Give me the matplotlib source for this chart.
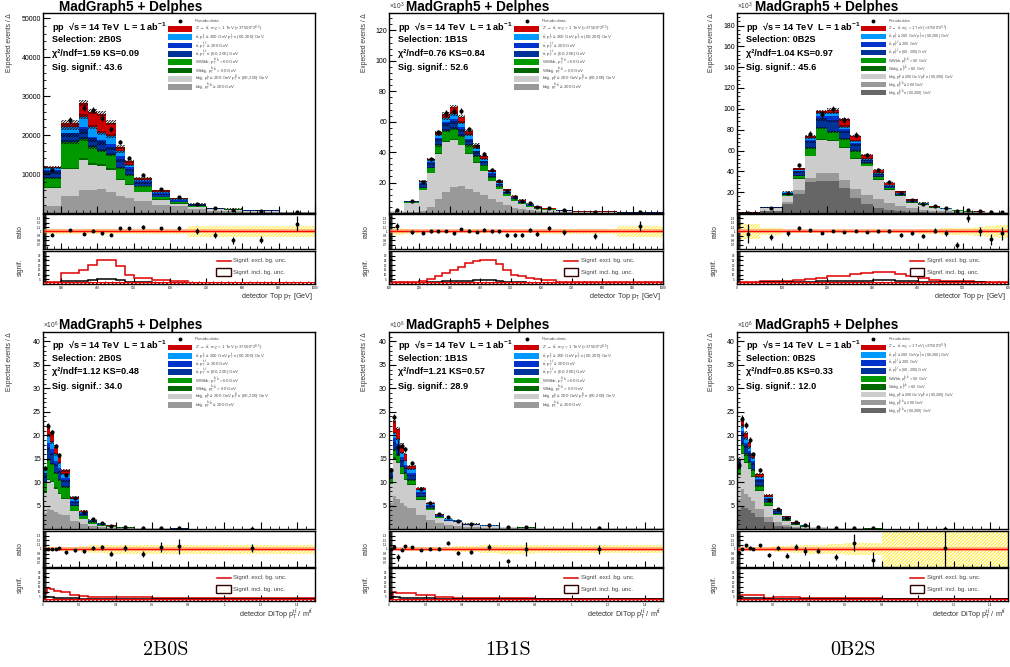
import numpy as np
import matplotlib
matplotlib.use("Agg")
import matplotlib.pyplot as plt
from matplotlib.ticker import MultipleLocator, FixedLocator, FuncFormatter
from matplotlib.patches import Rectangle

plt.rcParams['font.family'] = ['Liberation Sans', 'DejaVu Sans']
plt.rcParams['mathtext.fontset'] = 'custom'
plt.rcParams['mathtext.rm'] = 'Liberation Sans'
plt.rcParams['mathtext.it'] = 'Liberation Sans:italic'
plt.rcParams['mathtext.bf'] = 'Liberation Sans:bold'
plt.rcParams['mathtext.default'] = 'regular'
plt.rcParams['hatch.linewidth'] = 0.6

# ---------------------------------------------------------------- data
# detector Top pT, selection 2B0S (events / bin)
toppt_2b0s_edges = [250, 300, 350, 375, 400, 425, 450, 475, 500, 550, 600, 650, 700, 750, 800, 900, 1000]
toppt_2b0s_bbjj_hi = [1900, 4300, 6000, 5800, 6100, 5300, 4300, 3800, 3200, 2100, 1700, 1100, 600, 500, 300, 130]
toppt_2b0s_bbjj_mix = [4500, 6900, 7600, 6600, 6000, 5800, 4200, 3400, 2100, 1300, 700, 500, 300, 250, 170, 70]
toppt_2b0s_wbbjj = [300, 400, 400, 400, 400, 400, 300, 300, 200, 100, 100, 50, 30, 30, 20, 10]
toppt_2b0s_wwbb = [2200, 6700, 4900, 4200, 3500, 3400, 2700, 2300, 1300, 600, 300, 250, 150, 130, 90, 40]
toppt_2b0s_tt_lo = [1500, 1700, 2000, 1700, 1900, 1700, 1900, 1300, 900, 600, 300, 200, 100, 90, 60, 25]
toppt_2b0s_tt_hi = [600, 600, 1200, 900, 800, 1100, 1100, 800, 400, 400, 200, 100, 50, 40, 30, 10]
toppt_2b0s_tt_mix = [500, 1400, 2600, 2500, 1900, 2100, 1300, 400, 400, 300, 200, 100, 40, 30, 20, 10]
toppt_2b0s_zprime = [300, 1200, 3600, 3900, 4900, 3400, 1200, 1000, 450, 400, 300, 100, 30, 30, 10, 5]
toppt_2b0s_ratio = [0.93, 1.03, 0.95, 1.02, 0.955, 0.925, 1.07, 1.07, 1.10, 1.07, 1.07, 1.01, 0.91, 0.80, 0.81, 1.18]
toppt_2b0s_ratio_err = [0.03, 0.03, 0.03, 0.03, 0.03, 0.03, 0.035, 0.035, 0.04, 0.04, 0.045, 0.06, 0.07, 0.08, 0.08, 0.17]
toppt_2b0s_bkg_unc = [0.06, 0.06, 0.06, 0.06, 0.06, 0.06, 0.06, 0.06, 0.06, 0.06, 0.06, 0.12, 0.12, 0.12, 0.13, 0.13]
toppt_2b0s_sig_excl = [2, 12, 15, 20, 25, 25, 19, 10, 6, 4, 3, 1.5, 1.2, 1.2, 1.2, 1.2]
toppt_2b0s_sig_incl = [1.5, 3.5, 3, 3.8, 4.8, 4.8, 3.8, 2.5, 2, 1.5, 1.2, 1, 1, 1, 1, 1]

# detector Top pT, selection 1B1S (10^3 events / bin)
toppt_1b1s_edges = [100, 150, 200, 225, 250, 275, 300, 325, 350, 375, 400, 425, 450, 475, 500, 525, 550, 575, 600, 650, 700, 850, 1000]
toppt_1b1s_bbjj_hi = [0.2, 0.5, 1.5, 4, 9, 14, 17, 17.5, 16, 14, 12, 9, 7, 5, 3.5, 2.5, 1.8, 1.2, 0.9, 0.5, 0.25, 0.1]
toppt_1b1s_bbjj_mix = [1.0, 6.0, 13.5, 22, 30, 33, 31, 27, 23, 19, 15.5, 12, 8.5, 6, 4.5, 3.5, 2.4, 1.7, 1.2, 0.8, 0.4, 0.15]
toppt_1b1s_wbbjj = [0.02, 0.1, 0.3, 0.4, 0.5, 0.5, 0.5, 0.4, 0.4, 0.3, 0.3, 0.2, 0.2, 0.1, 0.1, 0.1, 0.05, 0.05, 0.03, 0.02, 0.01, 0.005]
toppt_1b1s_wwbb = [0.1, 0.5, 1.2, 3.5, 5, 6.5, 7, 6, 5, 4, 3.5, 2.5, 1.8, 1.3, 1.0, 0.8, 0.5, 0.4, 0.3, 0.2, 0.1, 0.05]
toppt_1b1s_tt_lo = [0.05, 0.3, 2.0, 2.5, 3.5, 4, 4, 3.5, 3, 2.5, 2, 1.5, 1.1, 0.9, 0.7, 0.5, 0.4, 0.3, 0.2, 0.15, 0.08, 0.03]
toppt_1b1s_tt_hi = [0.03, 0.2, 1.0, 1.0, 1.5, 2, 2.5, 2, 1.5, 1.2, 1, 0.8, 0.6, 0.5, 0.4, 0.3, 0.2, 0.15, 0.1, 0.07, 0.04, 0.02]
toppt_1b1s_tt_mix = [0.05, 0.2, 1.0, 1.5, 2, 2.5, 3, 3, 2.5, 2, 1.5, 1.2, 0.8, 0.6, 0.4, 0.3, 0.25, 0.2, 0.15, 0.1, 0.05, 0.02]
toppt_1b1s_zprime = [0.05, 0.1, 0.5, 0.6, 1.5, 2.5, 5, 4, 2.6, 2, 1.7, 0.8, 1.0, 1.2, 0.9, 0.8, 0.6, 0.4, 0.32, 0.16, 0.06, 0.02]
toppt_1b1s_ratio = [1.12, 0.985, 0.97, 1.0, 1.0, 1.015, 0.96, 1.06, 1.02, 0.985, 1.04, 1.01, 1.01, 0.92, 0.92, 0.925, 1.03, 0.95, 1.08, 0.985, 0.895, 1.12]
toppt_1b1s_ratio_err = [0.075, 0.04, 0.035, 0.03, 0.03, 0.03, 0.03, 0.03, 0.03, 0.03, 0.03, 0.035, 0.035, 0.04, 0.04, 0.04, 0.045, 0.05, 0.05, 0.06, 0.07, 0.11]
toppt_1b1s_bkg_unc = [0.07, 0.05, 0.04, 0.04, 0.04, 0.04, 0.04, 0.04, 0.04, 0.04, 0.04, 0.04, 0.04, 0.04, 0.04, 0.045, 0.045, 0.05, 0.05, 0.06, 0.06, 0.13]
toppt_1b1s_sig_excl = [2, 2.5, 3, 5, 8, 12, 15, 18, 22, 24.5, 25, 25, 21, 15, 10, 8, 6, 5, 4, 2, 2.5, 2.5]
toppt_1b1s_sig_incl = [1, 1, 1.5, 2, 2.5, 3, 3, 3.5, 3.5, 4, 4, 4, 3.5, 2.5, 2, 2, 1.5, 1.5, 1, 1, 1, 1]

# detector Top pT, selection 0B2S (10^3 events / bin)
toppt_0b2s_edges = [0, 50, 100, 125, 150, 175, 200, 225, 250, 275, 300, 325, 350, 375, 400, 425, 450, 475, 500, 525, 550, 575, 600]
toppt_0b2s_bbjj_lo = [0.1, 2.0, 9, 18.2, 29.5, 30.4, 30.4, 24, 14.4, 9, 4.8, 2.5, 1.5, 1, 0.7, 0.4, 0.3, 0.2, 0.1, 0.1, 0.05, 0.04]
toppt_0b2s_bbjj_hi = [0.05, 0.3, 1.6, 3.6, 4.1, 8, 7.6, 8, 9, 8.6, 9, 7.1, 5.5, 3.5, 2.5, 1.8, 1.3, 0.8, 0.6, 0.4, 0.3, 0.26]
toppt_0b2s_bbjj_mix = [0.2, 2.3, 5.4, 11.2, 20.8, 32, 31.5, 30.4, 28.4, 27.2, 18.2, 12.8, 9, 5.5, 4.3, 2.6, 1.9, 1.2, 0.7, 0.5, 0.35, 0.25]
toppt_0b2s_wbbjj = [0.01, 0.05, 0.2, 0.4, 0.6, 0.8, 0.8, 0.7, 0.6, 0.4, 0.3, 0.2, 0.15, 0.1, 0.1, 0.05, 0.05, 0.03, 0.02, 0.02, 0.01, 0.01]
toppt_0b2s_wwbb = [0.04, 0.35, 1.4, 2.6, 7.4, 10.4, 7.2, 7.9, 7.4, 2.8, 2.7, 1.4, 0.85, 0.7, 0.6, 0.45, 0.35, 0.27, 0.18, 0.13, 0.09, 0.07]
toppt_0b2s_tt_lo = [0.03, 0.2, 1.4, 3.3, 5.9, 8.4, 11, 7, 5.3, 2.4, 2.0, 1.4, 1.1, 0.6, 0.5, 0.3, 0.25, 0.15, 0.13, 0.1, 0.05, 0.05]
toppt_0b2s_tt_hi = [0.02, 0.1, 0.6, 1.3, 2.1, 3.2, 4.2, 2.6, 2.3, 0.8, 0.7, 0.5, 0.4, 0.3, 0.25, 0.15, 0.15, 0.1, 0.07, 0.05, 0.05, 0.03]
toppt_0b2s_tt_mix = [0.02, 0.1, 0.6, 0.9, 1.6, 2.8, 3.4, 2.4, 2.0, 0.8, 0.8, 0.6, 0.5, 0.3, 0.25, 0.15, 0.1, 0.07, 0.05, 0.05, 0.05, 0.02]
toppt_0b2s_zprime = [0.03, 0.4, 0.3, 1.5, 1.5, 1.5, 3.0, 7.0, 4.6, 3.9, 3.0, 2.5, 2.0, 1.0, 0.8, 0.5, 0.4, 0.25, 0.15, 0.15, 0.1, 0.07]
toppt_0b2s_ratio = [0.95, 0.87, 0.955, 1.075, 1.03, 0.97, 1.0075, 0.9925, 1.015, 0.9925, 1.0, 1.015, 0.92, 0.97, 0.895, 1.015, 0.97, 0.685, 1.31, 1.0, 0.82, 0.955]
toppt_0b2s_ratio_err = [0.22, 0.075, 0.05, 0.04, 0.035, 0.03, 0.03, 0.03, 0.03, 0.03, 0.035, 0.04, 0.045, 0.05, 0.055, 0.06, 0.065, 0.07, 0.09, 0.11, 0.13, 0.15]
toppt_0b2s_bkg_unc = [0.18, 0.07, 0.04, 0.035, 0.03, 0.03, 0.03, 0.03, 0.03, 0.03, 0.035, 0.035, 0.04, 0.045, 0.05, 0.06, 0.07, 0.08, 0.09, 0.1, 0.12, 0.15]
toppt_0b2s_sig_excl = [2.5, 3, 3.5, 4, 5, 6, 8, 8.5, 11, 11.5, 13, 13, 11, 8, 6, 4.5, 3.5, 3, 3, 2.5, 2.5, 2.5]
toppt_0b2s_sig_incl = [1.5, 2, 2, 2.2, 2.5, 2.8, 3, 3.2, 3.5, 3.5, 3.8, 3.8, 3.5, 3, 2.5, 2.2, 2, 2, 1.8, 1.8, 1.5, 1.5]

# detector DiTop pT/m, all selections share the binning (10^6 events / bin)
ditop_edges = [0, 0.02, 0.04, 0.06, 0.08, 0.1, 0.15, 0.2, 0.25, 0.3, 0.35, 0.4, 0.5, 0.6, 0.7, 0.8, 1.5]

ditop_2b0s_bbjj_hi = [3.5, 4.2, 4.0, 3.6, 3.2, 2.9, 1.8, 1.0, 0.55, 0.35, 0.22, 0.12, 0.07, 0.05, 0.04, 0.02]
ditop_2b0s_bbjj_mix = [4.2, 6.2, 6.0, 5.0, 4.3, 3.6, 2.0, 1.1, 0.55, 0.35, 0.22, 0.12, 0.07, 0.06, 0.04, 0.02]
ditop_2b0s_wbbjj = [0.2, 0.3, 0.3, 0.3, 0.2, 0.2, 0.1, 0.05, 0.03, 0.02, 0.01, 0.01, 0.005, 0.005, 0.003, 0.002]
ditop_2b0s_wwbb = [2.2, 4.0, 3.5, 3.0, 2.8, 2.2, 1.1, 0.6, 0.3, 0.2, 0.12, 0.07, 0.04, 0.03, 0.02, 0.01]
ditop_2b0s_tt_lo = [1.2, 2.5, 2.2, 1.8, 1.6, 1.3, 0.7, 0.4, 0.2, 0.13, 0.08, 0.05, 0.025, 0.02, 0.015, 0.008]
ditop_2b0s_tt_hi = [0.6, 1.2, 1.1, 0.9, 0.8, 0.7, 0.35, 0.2, 0.1, 0.07, 0.04, 0.02, 0.01, 0.01, 0.01, 0.005]
ditop_2b0s_tt_mix = [0.6, 1.6, 1.4, 1.3, 1.2, 0.9, 0.45, 0.25, 0.12, 0.08, 0.05, 0.03, 0.015, 0.01, 0.01, 0.005]
ditop_2b0s_zprime = [0.5, 2.0, 2.0, 1.6, 1.4, 0.7, 0.3, 0.3, 0.15, 0.1, 0.06, 0.03, 0.015, 0.015, 0.007, 0.008]
ditop_2b0s_ratio = [1.0, 1.0, 1.0075, 1.0075, 1.0225, 0.925, 0.97, 0.9475, 1.0225, 1.0375, 0.895, 1.0225, 0.895, 1.045, 1.06, 1.0225]
ditop_2b0s_ratio_err = [0.03, 0.025, 0.025, 0.025, 0.025, 0.03, 0.035, 0.04, 0.045, 0.05, 0.06, 0.06, 0.065, 0.11, 0.165, 0.09]
ditop_2b0s_bkg_unc = [0.04, 0.04, 0.04, 0.04, 0.04, 0.045, 0.05, 0.06, 0.08, 0.09, 0.1, 0.1, 0.1, 0.1, 0.1, 0.1]
ditop_2b0s_sig_excl = [8.4, 13.3, 13, 10.3, 10.3, 9.5, 6.5, 5.3, 3.8, 3.8, 3.8, 4.2, 4.2, 3.4, 3.4, 3.4]
ditop_2b0s_sig_incl = [4, 4.5, 4, 3.5, 3.5, 3.2, 2.8, 2.5, 2.2, 2.2, 2.2, 2.5, 2.5, 2, 2, 2]

ditop_1b1s_bbjj_hi = [5.5, 7.0, 6.5, 5.5, 5.0, 4.5, 3.0, 2.0, 1.2, 0.8, 0.7, 0.45, 0.3, 0.2, 0.15, 0.08]
ditop_1b1s_bbjj_mix = [4.0, 8.0, 7.5, 6.3, 5.5, 4.8, 3.2, 2.0, 1.1, 0.8, 0.7, 0.4, 0.3, 0.18, 0.14, 0.07]
ditop_1b1s_wbbjj = [0.2, 0.3, 0.3, 0.2, 0.2, 0.2, 0.1, 0.05, 0.03, 0.02, 0.02, 0.01, 0.01, 0.005, 0.005, 0.003]
ditop_1b1s_wwbb = [1.0, 1.5, 1.5, 1.3, 1.2, 1.0, 0.6, 0.4, 0.25, 0.15, 0.13, 0.08, 0.05, 0.03, 0.03, 0.015]
ditop_1b1s_tt_lo = [0.6, 1.5, 1.4, 1.2, 1.1, 0.9, 0.6, 0.4, 0.2, 0.14, 0.12, 0.07, 0.05, 0.03, 0.025, 0.012]
ditop_1b1s_tt_hi = [0.4, 1.0, 0.9, 0.8, 0.7, 0.6, 0.4, 0.25, 0.14, 0.1, 0.08, 0.05, 0.03, 0.02, 0.015, 0.008]
ditop_1b1s_tt_mix = [0.4, 1.2, 1.1, 1.0, 0.9, 0.7, 0.5, 0.3, 0.16, 0.1, 0.08, 0.05, 0.03, 0.02, 0.015, 0.008]
ditop_1b1s_zprime = [0.4, 2.5, 2.2, 1.7, 1.4, 0.8, 0.4, 0.2, 0.12, 0.09, 0.07, 0.04, 0.03, 0.015, 0.02, 0.004]
ditop_1b1s_ratio = [1.0, 1.0375, 0.82, 0.985, 1.06, 1.0375, 0.9775, 1.0075, 1.0075, 1.135, 0.91, 0.9325, 1.045, 0.7375, 1.0, 1.0]
ditop_1b1s_ratio_err = [0.03, 0.03, 0.08, 0.03, 0.03, 0.03, 0.03, 0.04, 0.04, 0.05, 0.05, 0.05, 0.07, 0.05, 0.15, 0.1]
ditop_1b1s_bkg_unc = [0.03, 0.03, 0.03, 0.03, 0.03, 0.035, 0.04, 0.04, 0.05, 0.05, 0.06, 0.07, 0.09, 0.1, 0.1, 0.09]
ditop_1b1s_sig_excl = [6.5, 9.5, 8.4, 8.4, 8.4, 8.4, 6.5, 6.5, 4.6, 4.6, 3.4, 3.4, 3.4, 3.4, 3.4, 2.5]
ditop_1b1s_sig_incl = [3.5, 4, 4, 3.5, 3.5, 3.5, 3, 3, 2.5, 2.5, 2.2, 2.2, 2.2, 2, 2, 2]

ditop_0b2s_bbjj_lo = [4.0, 5.0, 4.5, 4.0, 3.5, 2.5, 1.4, 0.7, 0.4, 0.2, 0.1, 0.07, 0.04, 0.03, 0.02, 0.01]
ditop_0b2s_bbjj_hi = [2.5, 3.5, 3.0, 2.8, 2.4, 1.8, 1.2, 0.7, 0.45, 0.25, 0.15, 0.09, 0.05, 0.035, 0.025, 0.013]
ditop_0b2s_bbjj_mix = [5.0, 7.5, 6.5, 5.9, 5.1, 3.8, 2.4, 1.5, 0.95, 0.5, 0.28, 0.17, 0.1, 0.07, 0.05, 0.028]
ditop_0b2s_wbbjj = [0.2, 0.3, 0.3, 0.2, 0.2, 0.15, 0.08, 0.05, 0.03, 0.02, 0.01, 0.01, 0.005, 0.003, 0.003, 0.002]
ditop_0b2s_wwbb = [1.3, 1.8, 1.6, 1.4, 1.3, 0.9, 0.6, 0.35, 0.22, 0.1, 0.07, 0.04, 0.025, 0.017, 0.012, 0.007]
ditop_0b2s_tt_lo = [0.8, 2.0, 1.7, 1.6, 1.3, 1.0, 0.6, 0.35, 0.22, 0.11, 0.07, 0.04, 0.025, 0.017, 0.013, 0.007]
ditop_0b2s_tt_hi = [0.4, 0.9, 0.8, 0.7, 0.6, 0.45, 0.3, 0.2, 0.13, 0.07, 0.04, 0.025, 0.015, 0.01, 0.008, 0.004]
ditop_0b2s_tt_mix = [0.4, 1.0, 0.9, 0.8, 0.7, 0.5, 0.32, 0.2, 0.13, 0.07, 0.04, 0.025, 0.015, 0.01, 0.008, 0.004]
ditop_0b2s_zprime = [0.4, 1.5, 1.2, 1.1, 0.9, 0.6, 0.3, 0.15, 0.17, 0.08, 0.04, 0.03, 0.025, 0.008, 0.011, 0.005]
ditop_0b2s_ratio = [0.91, 1.0, 1.0825, 1.03, 1.0, 1.0825, 0.8725, 1.0225, 0.85, 1.045, 0.9475, 0.9625, 0.82, 1.135, 0.76, 1.0225]
ditop_0b2s_ratio_err = [0.05, 0.03, 0.03, 0.03, 0.03, 0.035, 0.045, 0.05, 0.06, 0.075, 0.09, 0.06, 0.075, 0.19, 0.165, 0.55]
ditop_0b2s_bkg_unc = [0.06, 0.04, 0.04, 0.04, 0.04, 0.045, 0.05, 0.06, 0.07, 0.08, 0.09, 0.1, 0.12, 0.13, 0.14, 0.45]
ditop_0b2s_sig_excl = [3.8, 6.5, 6.5, 6.5, 6.5, 6.5, 2.7, 3.8, 3.8, 3.8, 2.7, 2.7, 2.7, 2.7, 2.7, 2.2]
ditop_0b2s_sig_incl = [2, 3.5, 3.5, 3, 3, 3, 2, 2.5, 2.5, 2.5, 2, 2, 2, 2, 2, 1.8]

selections = ["2B0S", "1B1S", "0B2S"]
fit_text = {
    ("top", "2B0S"): ("1.59", "0.09", "43.6"),
    ("top", "1B1S"): ("0.76", "0.84", "52.6"),
    ("top", "0B2S"): ("1.04", "0.97", "45.6"),
    ("ditop", "2B0S"): ("1.12", "0.48", "34.0"),
    ("ditop", "1B1S"): ("1.21", "0.57", "28.9"),
    ("ditop", "0B2S"): ("0.85", "0.33", "12.0"),
}

# ---------------------------------------------------------------- styling
C_BBJJ_LO = '#666666'
C_BBJJ_HI = '#999999'
C_BBJJ_MIX = '#cccccc'
C_WBBJJ = '#006600'
C_WWBB = '#009900'
C_TT_LO = '#003399'
C_TT_HI = '#0033cc'
C_TT_MIX = '#0099ff'
C_ZP = '#cc0000'

LEG_ZP = r"Z'$\rightarrow$ t$\bar{t}$, m$_{Z'}$ = 1 TeV (×37500*2$^{0.5}$)"
LEG_TT_MIX = r"t$\bar{t}$, p$_{T}^{t}$ ≥ 200 GeV p$_{T}^{\bar{t}}$ ∈ (60,200) GeV"
LEG_TT_HI = r"t$\bar{t}$, p$_{T}^{t,\bar{t}}$ ≥ 200 GeV"
LEG_TT_LO = r"t$\bar{t}$, p$_{T}^{t,\bar{t}}$ ∈ (60, 200) GeV"
LEG_WWBB = r"WWbb, p$_{T}^{b,\bar{b}}$ > 60 GeV"
LEG_WBBJJ = r"Wbbjj, p$_{T}^{b,\bar{b}}$ > 60 GeV"
LEG_BBJJ_MIX = r"bbjj, p$_{T}^{b}$ ≥ 200 GeV p$_{T}^{\bar{b}}$ ∈ (60,200) GeV"
LEG_BBJJ_HI = r"bbjj, p$_{T}^{b,\bar{b}}$ ≥ 200 GeV"
LEG_BBJJ_LO = r"bbjj, p$_{T}^{b,\bar{b}}$ ∈ (60,200) GeV"

W, H = 1010, 667
fig = plt.figure(figsize=(W / 100, H / 100), dpi=100)

COLS = [(43, 315), (389, 663), (737, 1008)]
ROWS = [((13, 213), (214, 249), (251, 284)),
        ((332, 529), (531, 567), (568, 601))]
TITLE_X = [131, 478, 827]
TITLE_Y = [7, 325]


def add_ax(x0, y0, x1, y1):
    return fig.add_axes([x0 / W, 1 - y1 / H, (x1 - x0) / W, (y1 - y0) / H])


def fig_xy(x, y):
    return x / W, 1 - y / H


def frame(ax, major_len=4.5, minor_len=2.2, lab=5.0):
    ax.tick_params(which='both', direction='in', top=False, right=False, labelsize=lab, pad=1.5)
    ax.tick_params(which='major', length=major_len, width=0.8)
    ax.tick_params(which='minor', length=minor_len, width=0.6)
    for s in ax.spines.values():
        s.set_linewidth(1.0)


def build(kind, sel, edges, comps, ratio, rerr, unc, sexcl, sincl):
    return dict(kind=kind, sel=sel, edges=edges, comps=comps, ratio=ratio, rerr=rerr,
                unc=unc, sexcl=sexcl, sincl=sincl)


std_colors = [C_BBJJ_HI, C_BBJJ_MIX, C_WBBJJ, C_WWBB, C_TT_LO, C_TT_HI, C_TT_MIX, C_ZP]
std_labels = [LEG_BBJJ_HI, LEG_BBJJ_MIX, LEG_WBBJJ, LEG_WWBB, LEG_TT_LO, LEG_TT_HI, LEG_TT_MIX, LEG_ZP]
ext_colors = [C_BBJJ_LO] + std_colors
ext_labels = [LEG_BBJJ_LO] + std_labels

panels = [
    build("top", "2B0S", toppt_2b0s_edges,
          list(zip([toppt_2b0s_bbjj_hi, toppt_2b0s_bbjj_mix, toppt_2b0s_wbbjj, toppt_2b0s_wwbb,
                    toppt_2b0s_tt_lo, toppt_2b0s_tt_hi, toppt_2b0s_tt_mix, toppt_2b0s_zprime],
                   std_colors, std_labels)),
          toppt_2b0s_ratio, toppt_2b0s_ratio_err, toppt_2b0s_bkg_unc, toppt_2b0s_sig_excl, toppt_2b0s_sig_incl),
    build("top", "1B1S", toppt_1b1s_edges,
          list(zip([toppt_1b1s_bbjj_hi, toppt_1b1s_bbjj_mix, toppt_1b1s_wbbjj, toppt_1b1s_wwbb,
                    toppt_1b1s_tt_lo, toppt_1b1s_tt_hi, toppt_1b1s_tt_mix, toppt_1b1s_zprime],
                   std_colors, std_labels)),
          toppt_1b1s_ratio, toppt_1b1s_ratio_err, toppt_1b1s_bkg_unc, toppt_1b1s_sig_excl, toppt_1b1s_sig_incl),
    build("top", "0B2S", toppt_0b2s_edges,
          list(zip([toppt_0b2s_bbjj_lo, toppt_0b2s_bbjj_hi, toppt_0b2s_bbjj_mix, toppt_0b2s_wbbjj, toppt_0b2s_wwbb,
                    toppt_0b2s_tt_lo, toppt_0b2s_tt_hi, toppt_0b2s_tt_mix, toppt_0b2s_zprime],
                   ext_colors, ext_labels)),
          toppt_0b2s_ratio, toppt_0b2s_ratio_err, toppt_0b2s_bkg_unc, toppt_0b2s_sig_excl, toppt_0b2s_sig_incl),
    build("ditop", "2B0S", ditop_edges,
          list(zip([ditop_2b0s_bbjj_hi, ditop_2b0s_bbjj_mix, ditop_2b0s_wbbjj, ditop_2b0s_wwbb,
                    ditop_2b0s_tt_lo, ditop_2b0s_tt_hi, ditop_2b0s_tt_mix, ditop_2b0s_zprime],
                   std_colors, std_labels)),
          ditop_2b0s_ratio, ditop_2b0s_ratio_err, ditop_2b0s_bkg_unc, ditop_2b0s_sig_excl, ditop_2b0s_sig_incl),
    build("ditop", "1B1S", ditop_edges,
          list(zip([ditop_1b1s_bbjj_hi, ditop_1b1s_bbjj_mix, ditop_1b1s_wbbjj, ditop_1b1s_wwbb,
                    ditop_1b1s_tt_lo, ditop_1b1s_tt_hi, ditop_1b1s_tt_mix, ditop_1b1s_zprime],
                   std_colors, std_labels)),
          ditop_1b1s_ratio, ditop_1b1s_ratio_err, ditop_1b1s_bkg_unc, ditop_1b1s_sig_excl, ditop_1b1s_sig_incl),
    build("ditop", "0B2S", ditop_edges,
          list(zip([ditop_0b2s_bbjj_lo, ditop_0b2s_bbjj_hi, ditop_0b2s_bbjj_mix, ditop_0b2s_wbbjj, ditop_0b2s_wwbb,
                    ditop_0b2s_tt_lo, ditop_0b2s_tt_hi, ditop_0b2s_tt_mix, ditop_0b2s_zprime],
                   ext_colors, ext_labels)),
          ditop_0b2s_ratio, ditop_0b2s_ratio_err, ditop_0b2s_bkg_unc, ditop_0b2s_sig_excl, ditop_0b2s_sig_incl),
]

# per-panel axis settings: (xlim, x major, x minor, ylim, y major, y minor, exponent text)
axis_cfg = {
    ("top", "2B0S"): ((250, 1000), 100, 20, (0, 51300), 10000, 2000, None),
    ("top", "1B1S"): ((100, 1000), 100, 20, (0, 131.5), 20, 4, r"×10$^{3}$"),
    ("top", "0B2S"): ((0, 600), 100, 20, (0, 192), 20, 4, r"×10$^{3}$"),
    ("ditop", "2B0S"): ((0, 1.5), 0.2, 0.05, (0, 42), 5, 1, r"×10$^{6}$"),
    ("ditop", "1B1S"): ((0, 1.5), 0.2, 0.05, (0, 42), 5, 1, r"×10$^{6}$"),
    ("ditop", "0B2S"): ((0, 1.5), 0.2, 0.05, (0, 42), 5, 1, r"×10$^{6}$"),
}
ylabel_x = {0: -0.11, 1: -0.077, 2: -0.081}
HATCH_SCALE = 0.45

for i, p in enumerate(panels):
    col = i % 3
    row = i // 3
    x0, x1 = COLS[col]
    (m0, m1), (r0, r1), (s0, s1) = ROWS[row]
    axm = add_ax(x0, m0, x1, m1)
    axr = add_ax(x0, r0, x1, r1)
    axs = add_ax(x0, s0, x1, s1)
    xlim, xmaj, xmin, ylim, ymaj, ymin, expo = axis_cfg[(p['kind'], p['sel'])]

    edges = np.asarray(p['edges'], float)
    centers = 0.5 * (edges[1:] + edges[:-1])
    widths = np.diff(edges)

    # stacked backgrounds and signal
    base = np.zeros(len(centers))
    levels = []
    for vals, colr, _ in p['comps']:
        top = base + np.asarray(vals, float)
        axm.stairs(top, edges, baseline=base.copy(), fill=True, color=colr, lw=0)
        levels.append(top.copy())
        base = top
    total = base
    unc = np.asarray(p['unc'], float)
    ncomp = len(levels)
    # uncertainty hatching on the WWbb, tt(60,200), ttbar and total levels
    for idx in (ncomp - 5, ncomp - 4, ncomp - 2, ncomp - 1):
        lev = levels[idx]
        half = HATCH_SCALE * unc * lev
        axm.bar(centers, 2 * half, bottom=lev - half, width=widths, facecolor='none',
                hatch='/' * 12, edgecolor='black', lw=0, zorder=2)

    ratio = np.asarray(p['ratio'], float)
    rerr = np.asarray(p['rerr'], float)
    axm.errorbar(centers, ratio * total, yerr=rerr * total, fmt='o', ms=2.0, color='black',
                 elinewidth=0.9, capsize=0, zorder=3)
    axm.set_xlim(*xlim)
    axm.set_ylim(*ylim)
    axm.xaxis.set_major_locator(MultipleLocator(xmaj))
    axm.xaxis.set_minor_locator(MultipleLocator(xmin))
    axm.yaxis.set_major_locator(MultipleLocator(ymaj))
    axm.yaxis.set_minor_locator(MultipleLocator(ymin))
    axm.set_xticklabels([])
    frame(axm, 5, 2.5, 5.0)
    axm.yaxis.set_major_formatter(FuncFormatter(lambda v, _: f"{v:g}" if v > 0 else ""))
    axm.set_ylabel("Expected events / Δ", fontsize=4.8, color='#333333', loc='top')
    axm.yaxis.set_label_coords(ylabel_x[col], 1.0)
    if expo:
        axm.text(0.0, 1.005, expo, transform=axm.transAxes, fontsize=4.8, color='#333333',
                 ha='left', va='bottom')

    # header text block
    chi2, ks, signif = fit_text[(p['kind'], p['sel'])]
    lines = [r"pp  √s = 14 TeV  L = 1 ab$^{\mathbf{-1}}$", f"Selection: {p['sel']}",
             f"χ²/ndf={chi2} KS={ks}", f"Sig. signif.: {signif}"]
    for ln, yy in zip(lines, [0.932, 0.865, 0.80, 0.725]):
        axm.text(0.033, yy, ln, transform=axm.transAxes, fontsize=6.6, fontweight='bold',
                 ha='left', va='center')

    # legend
    n_leg = len(p['comps'])
    step = 0.0415 if n_leg == 8 else 0.04
    leg_fs = 3.2 if n_leg == 8 else 2.8
    bx0, bx1, tx = 0.458, 0.548, 0.558
    y_top = 0.962
    axm.plot([0.5 * (bx0 + bx1)], [y_top], 'o', ms=1.8, color='black', transform=axm.transAxes, clip_on=False)
    axm.text(tx, y_top, "Pseudo-data", transform=axm.transAxes, fontsize=leg_fs, color='#555555',
             ha='left', va='center')
    for k, (_, colr, lab) in enumerate(reversed(p['comps'])):
        yc = y_top - (k + 1) * step
        axm.add_patch(Rectangle((bx0, yc - 0.014), bx1 - bx0, 0.028, transform=axm.transAxes,
                                facecolor=colr, edgecolor='none'))
        axm.text(tx, yc, lab, transform=axm.transAxes, fontsize=leg_fs, color='#555555',
                 ha='left', va='center')

    # ratio panel
    axr.bar(centers, 2 * unc, bottom=1 - unc, width=widths, facecolor='white', hatch='/' * 10,
            edgecolor='#ffe600', lw=0)
    axr.axhline(1.0, color='#ff9966', lw=2.6, alpha=0.8)
    axr.axhline(1.0, color='#ff0000', lw=0.9)
    axr.errorbar(centers, ratio, yerr=rerr, fmt='o', ms=1.8, color='black', elinewidth=0.9, capsize=0)
    axr.set_xlim(*xlim)
    axr.set_ylim(0.6, 1.4)
    axr.xaxis.set_major_locator(MultipleLocator(xmaj))
    axr.xaxis.set_minor_locator(MultipleLocator(xmin))
    axr.yaxis.set_major_locator(FixedLocator([0.7, 0.8, 0.9, 1.0, 1.1, 1.2, 1.3]))
    axr.yaxis.set_minor_locator(MultipleLocator(0.02))
    axr.yaxis.set_major_formatter(FuncFormatter(lambda v, _: f"{v:g}"))
    axr.set_xticklabels([])
    frame(axr, 4, 2, 2.2)
    axr.set_ylabel("ratio", fontsize=4.8, color='#333333')
    axr.yaxis.set_label_coords(-0.07, 0.5)

    # significance panel
    axs.axhline(0.8, color='#ee0000', lw=2.2)
    axs.axhline(0.8, color='white', lw=0.7, ls=(0, (2, 2)))
    axs.stairs(p['sexcl'], edges, baseline=None, color='#e00000', lw=1.1)
    axs.stairs(p['sincl'], edges, baseline=None, color='black', lw=1.1)
    axs.set_xlim(*xlim)
    axs.set_ylim(0, 35)
    axs.xaxis.set_major_locator(MultipleLocator(xmaj))
    axs.xaxis.set_minor_locator(MultipleLocator(xmin))
    axs.yaxis.set_major_locator(FixedLocator([5, 10, 15, 20, 25, 30]))
    axs.yaxis.set_minor_locator(MultipleLocator(1))
    axs.xaxis.set_major_formatter(FuncFormatter(lambda v, _: f"{v:g}"))
    frame(axs, 4, 2, 2.2)
    axs.set_ylabel("signif.", fontsize=4.8, color='#333333')
    axs.yaxis.set_label_coords(-0.07, 0.5)
    axs.plot([0.64, 0.69], [0.70, 0.70], color='#dd0000', lw=1.1, transform=axs.transAxes)
    axs.text(0.70, 0.70, "Signif. excl. bg. unc.", transform=axs.transAxes, fontsize=4.3,
             color='#444444', ha='left', va='center')
    axs.add_patch(Rectangle((0.637, 0.25), 0.053, 0.22, transform=axs.transAxes,
                            facecolor='white', edgecolor='#330000', lw=1.0))
    axs.text(0.70, 0.36, "Signif. incl. bg. unc.", transform=axs.transAxes, fontsize=4.3,
             color='#444444', ha='left', va='center')

    # x-axis title under the significance panel
    if p['kind'] == 'top':
        xt = r"detector Top p$_{T}$ [GeV]"
        ypx = s1 + 12
    else:
        xt = r"detector DiTop p$_{T}^{t\bar{t}}$ / m$^{t\bar{t}}$"
        ypx = s1 + 13
    fig.text(*fig_xy(x1 - 2, ypx), xt, fontsize=5.2, color='#333333', ha='right', va='center')

    # panel title
    fig.text(*fig_xy(TITLE_X[col], TITLE_Y[row]), "MadGraph5 + Delphes", fontsize=9.8,
             fontweight='bold', ha='center', va='center')

# selection names below the columns
for sel, xc in zip(selections, [166, 508, 853]):
    fig.text(*fig_xy(xc, 650), sel, fontsize=14.5, family='cmr10', ha='center', va='center')

fig.savefig("out.png", dpi=100)
